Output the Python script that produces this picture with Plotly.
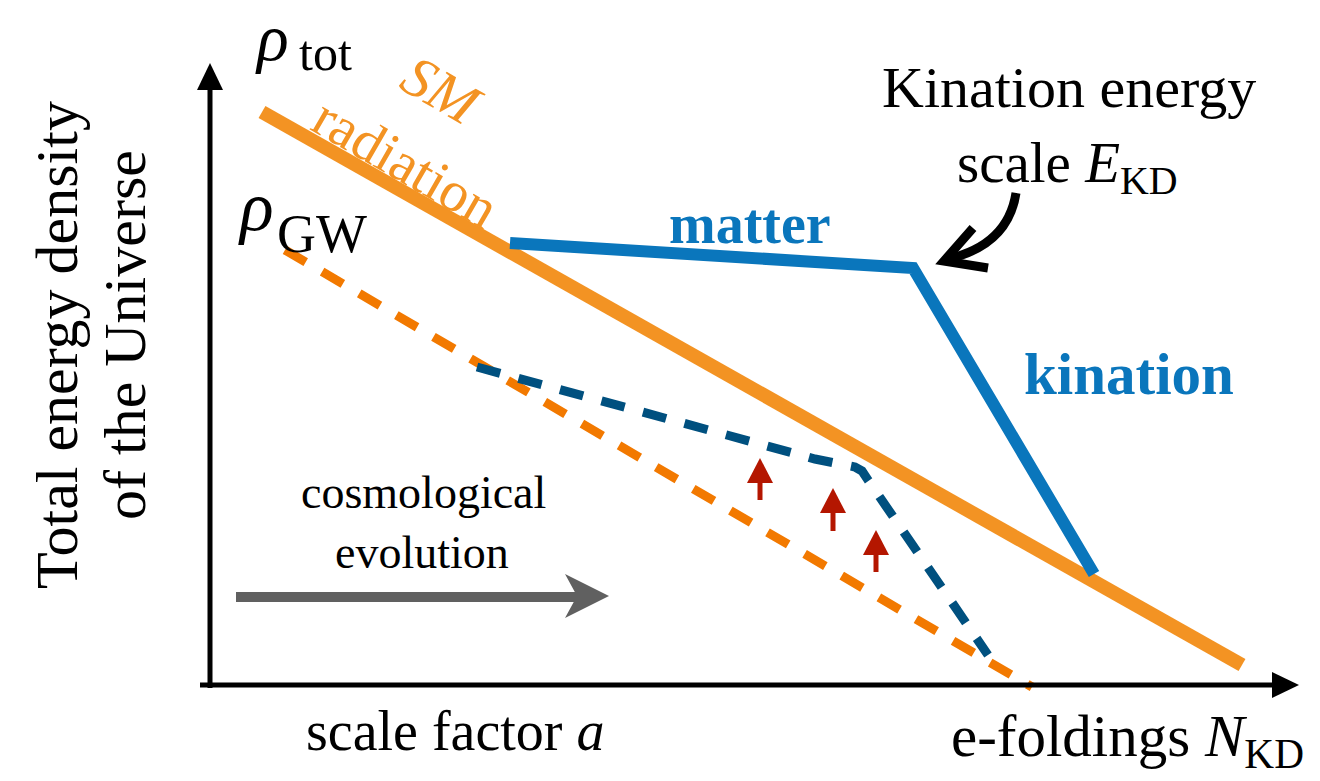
import plotly.graph_objects as go

# ---- schematic data (x to the right, y downward, in figure units) ----
sm_x = [262, 1242]
sm_y = [112, 665]
matter_x = [510, 913, 1094]
matter_y = [243, 268, 574]
gw_x = [285, 1032]
gw_y = [250, 687]
gwkd_x = [477, 600, 730, 815, 855, 862, 868, 988]
gwkd_y = [367, 400, 435, 459, 467, 471, 480, 655]

red_x = [760, 833, 876]
red_tail_y = [500, 531, 572]
red_tip_y = [458, 488, 530]

C_SM = "#F39323"
C_GW = "#F27900"
C_BLUE = "#0A76BC"
C_DBLUE = "#00507F"
C_RED = "#B41600"
C_GRAY = "#606060"
FONT = "Liberation Serif"

fig = go.Figure()

fig.add_trace(go.Scatter(x=gw_x, y=gw_y, mode="lines",
                         line=dict(color=C_GW, width=9, dash="24px,19px")))
fig.add_trace(go.Scatter(x=gwkd_x, y=gwkd_y, mode="lines",
                         line=dict(color=C_DBLUE, width=9, dash="24px,19px")))
fig.add_trace(go.Scatter(x=sm_x, y=sm_y, mode="lines",
                         line=dict(color=C_SM, width=14)))
fig.add_trace(go.Scatter(x=matter_x, y=matter_y, mode="lines",
                         line=dict(color=C_BLUE, width=12)))

shapes = []
# axes
shapes.append(dict(type="line", x0=210, y0=688, x1=210, y1=86,
                   line=dict(color="black", width=5)))
shapes.append(dict(type="path", path="M 210,63 L 197,90 L 223,90 Z",
                   fillcolor="black", line=dict(width=0)))
shapes.append(dict(type="line", x0=200, y0=685, x1=1276, y1=685,
                   line=dict(color="black", width=5)))
shapes.append(dict(type="path", path="M 1299,685 L 1272,672 L 1272,698 Z",
                   fillcolor="black", line=dict(width=0)))
# red arrows
for xr, yt, yp in zip(red_x, red_tail_y, red_tip_y):
    shapes.append(dict(type="line", x0=xr, y0=yt, x1=xr, y1=yp + 22,
                       line=dict(color=C_RED, width=5)))
    shapes.append(dict(type="path",
                       path=f"M {xr},{yp} L {xr-13},{yp+25} L {xr+13},{yp+25} Z",
                       fillcolor=C_RED, line=dict(width=0)))
# gray evolution arrow
shapes.append(dict(type="line", x0=236, y0=597, x1=580, y1=597,
                   line=dict(color=C_GRAY, width=10)))
shapes.append(dict(type="path", path="M 609,596 L 565,574 L 577,596 L 565,618 Z",
                   fillcolor=C_GRAY, line=dict(width=0)))
# curved black arrow
shapes.append(dict(type="path", path="M 1016,193 Q 1008,245 948,259",
                   line=dict(color="black", width=9)))
shapes.append(dict(type="path", path="M 973,228 L 944,261 L 988,268",
                   line=dict(color="black", width=9)))

ann = []


def txt(x, y, s, size, color="black", angle=0, xanchor="center"):
    ann.append(dict(x=x, y=y, text=s, showarrow=False, textangle=angle,
                    xanchor=xanchor, yanchor="middle",
                    font=dict(family=FONT, size=size, color=color)))


txt(272, 37, "<i>ρ</i>", 66)
txt(325, 53, "tot", 50)
txt(256, 206, "<i>ρ</i>", 70)
txt(322, 234, "GW", 54)
txt(442, 90, "<i>SM</i>", 58, C_SM, 30)
txt(406, 162, "radiation", 57, C_SM, 30)
txt(750, 224, "<b>matter</b>", 56, C_BLUE)
txt(1129, 374, "<b>kination</b>", 59, C_BLUE)
txt(1069, 87, "Kination energy", 58)
txt(1067, 167, "scale <i>E</i><sub>KD</sub>", 57)
txt(423, 492, "cosmological", 46)
txt(422, 552, "evolution", 46)
txt(455, 731, "scale factor <i>a</i>", 56)
txt(1127, 740, "e-foldings <i>N</i><sub>KD</sub>", 59)
txt(57, 345, "Total energy density", 60, angle=-90)
txt(125, 335, "of the Universe", 60, angle=-90)

fig.update_layout(
    width=1320, height=781, autosize=False,
    margin=dict(l=0, r=0, t=0, b=0),
    paper_bgcolor="white", plot_bgcolor="white",
    showlegend=False,
    xaxis=dict(range=[0, 1320], visible=False, fixedrange=True),
    yaxis=dict(range=[781, 0], visible=False, fixedrange=True),
    shapes=shapes, annotations=ann,
)

fig.write_html("out.html", config={"displayModeBar": False})
